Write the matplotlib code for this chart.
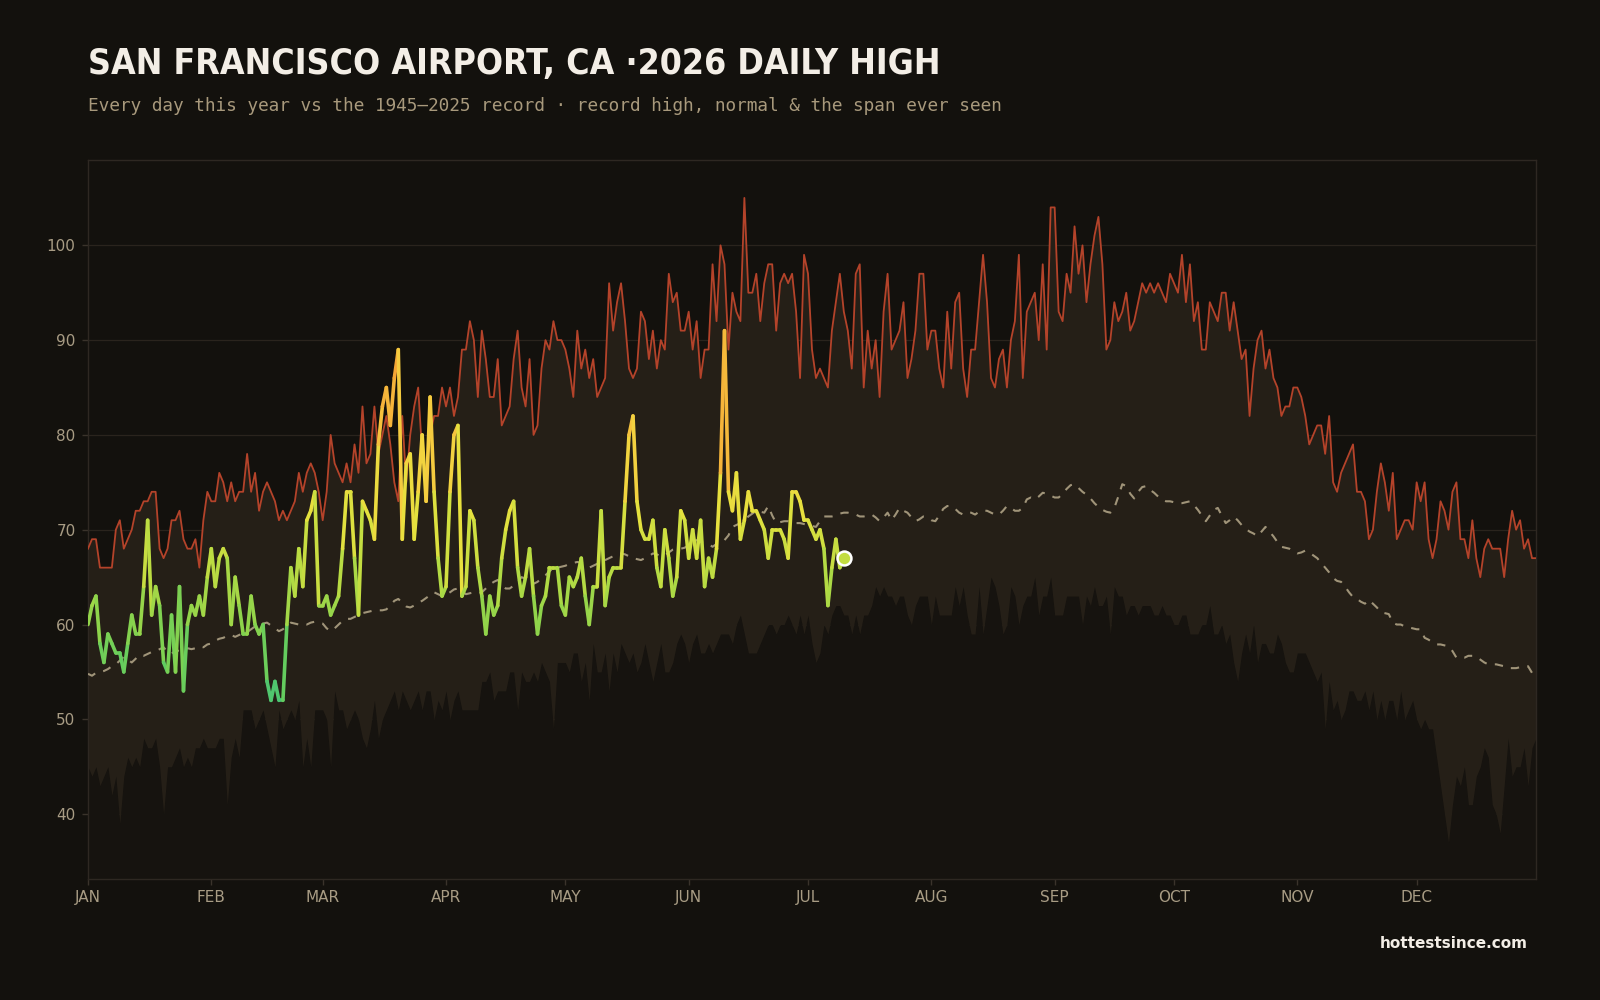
import numpy as np
import matplotlib.pyplot as plt
from matplotlib import font_manager
from matplotlib.collections import LineCollection
from matplotlib.colors import LinearSegmentedColormap, Normalize

# Daily highs, deg F, one value per day of the year (Jan 1 .. Dec 31)
month_names = ['JAN', 'FEB', 'MAR', 'APR', 'MAY', 'JUN',
               'JUL', 'AUG', 'SEP', 'OCT', 'NOV', 'DEC']
month_lengths = [31, 28, 31, 30, 31, 30, 31, 31, 30, 31, 30, 31]

record_high = [
    68, 69, 69, 66, 66, 66, 66, 70, 71, 68, 69, 70, 72, 72, 73, 73, 74, 74, 68, 67, 68, 71, 71, 72, 69, 68, 68, 69, 66, 71, 74,
    73, 73, 76, 75, 73, 75, 73, 74, 74, 78, 74, 76, 72, 74, 75, 74, 73, 71, 72, 71, 72, 73, 76, 74, 76, 77, 76, 74,
    71, 74, 80, 77, 76, 75, 77, 75, 79, 76, 83, 77, 78, 83, 78, 80, 82, 79, 75, 73, 82, 75, 80, 83, 85, 78, 76, 80, 82, 82, 85,
    83, 85, 82, 84, 89, 89, 92, 90, 84, 91, 88, 84, 84, 88, 81, 82, 83, 88, 91, 85, 83, 88, 80, 81, 87, 90, 89, 92, 90, 90,
    89, 87, 84, 91, 87, 89, 86, 88, 84, 85, 86, 96, 91, 94, 96, 92, 87, 86, 87, 93, 92, 88, 91, 87, 90, 89, 97, 94, 95, 91, 91,
    93, 89, 92, 86, 89, 89, 98, 92, 100, 98, 89, 95, 93, 92, 105, 95, 95, 97, 92, 96, 98, 98, 91, 96, 97, 96, 97, 93, 86, 99,
    97, 89, 86, 87, 86, 85, 91, 94, 97, 93, 91, 87, 97, 98, 85, 91, 87, 90, 84, 93, 97, 89, 90, 91, 94, 86, 88, 91, 97, 97, 89,
    91, 91, 87, 85, 93, 87, 94, 95, 87, 84, 89, 89, 94, 99, 94, 86, 85, 88, 89, 85, 90, 92, 99, 86, 93, 94, 95, 90, 98, 89, 104,
    104, 93, 92, 97, 95, 102, 97, 100, 94, 98, 101, 103, 98, 89, 90, 94, 92, 93, 95, 91, 92, 94, 96, 95, 96, 95, 96, 95, 94, 97,
    96, 95, 99, 94, 98, 92, 94, 89, 89, 94, 93, 92, 95, 95, 91, 94, 91, 88, 89, 82, 87, 90, 91, 87, 89, 86, 85, 82, 83, 83, 85,
    85, 84, 82, 79, 80, 81, 81, 78, 82, 75, 74, 76, 77, 78, 79, 74, 74, 73, 69, 70, 74, 77, 75, 72, 76, 69, 70, 71, 71, 70,
    75, 73, 75, 69, 67, 69, 73, 72, 70, 74, 75, 69, 69, 67, 71, 67, 65, 68, 69, 68, 68, 68, 65, 69, 72, 70, 71, 68, 69, 67, 67,
]

# lowest daily high ever seen (bottom of the span)
record_low = [
    45, 44, 45, 43, 44, 45, 42, 44, 39, 44, 46, 45, 46, 45, 48, 47, 47, 48, 45, 40, 45, 45, 46, 47, 45, 46, 45, 47, 47, 48, 47,
    47, 47, 48, 48, 41, 46, 48, 46, 51, 51, 51, 49, 50, 51, 49, 47, 45, 51, 49, 50, 51, 50, 52, 45, 48, 45, 51, 51,
    51, 50, 45, 53, 51, 51, 49, 50, 51, 50, 48, 47, 49, 52, 48, 50, 51, 52, 53, 51, 53, 52, 51, 52, 53, 51, 53, 53, 50, 52, 51,
    53, 50, 52, 53, 51, 51, 51, 51, 51, 54, 54, 55, 52, 53, 53, 53, 55, 55, 51, 55, 54, 54, 55, 54, 56, 55, 54, 49, 56, 56,
    56, 55, 57, 57, 54, 56, 52, 58, 55, 55, 57, 53, 57, 55, 58, 57, 56, 57, 55, 56, 58, 56, 54, 56, 58, 55, 55, 56, 58, 59, 58,
    56, 58, 59, 57, 57, 58, 57, 58, 59, 59, 59, 58, 60, 61, 59, 57, 57, 57, 58, 59, 60, 60, 59, 60, 60, 61, 60, 59, 61, 59,
    61, 58, 56, 57, 60, 59, 61, 62, 62, 61, 61, 59, 61, 59, 61, 61, 62, 64, 63, 64, 63, 63, 62, 63, 63, 61, 60, 62, 63, 63, 63,
    60, 63, 61, 61, 61, 61, 64, 62, 64, 61, 59, 59, 64, 59, 62, 65, 64, 62, 59, 60, 64, 63, 60, 62, 63, 63, 65, 61, 63, 63, 65,
    61, 61, 61, 63, 63, 63, 63, 60, 63, 62, 64, 62, 62, 63, 59, 64, 63, 63, 61, 62, 62, 61, 62, 62, 62, 61, 61, 62, 61, 61,
    60, 60, 61, 61, 59, 59, 59, 60, 60, 62, 59, 59, 60, 58, 59, 56, 54, 57, 59, 57, 60, 56, 58, 58, 57, 57, 59, 58, 56, 55, 55,
    57, 57, 57, 56, 55, 54, 55, 49, 54, 51, 52, 50, 51, 53, 53, 52, 52, 53, 51, 53, 50, 52, 50, 52, 52, 50, 53, 50, 51, 52,
    50, 49, 50, 49, 49, 46, 43, 40, 37, 41, 44, 43, 45, 41, 41, 44, 45, 47, 46, 41, 40, 38, 43, 48, 44, 45, 45, 47, 43, 47, 48,
]

normal = [
    54.8, 54.6, 54.9, 55.0, 55.1, 55.3, 55.6, 55.8, 56.2, 56.6, 56.3, 56.0, 56.4, 56.8, 56.7, 56.9, 57.1, 57.2, 57.4, 57.6,
    57.1, 56.9, 57.3, 57.2, 57.3, 57.5, 57.4, 57.5, 57.7, 57.6, 57.9,
    58.0, 58.3, 58.5, 58.6, 58.8, 58.9, 58.7, 58.9, 59.1, 59.2, 59.5, 59.8, 60.0, 60.1, 60.2, 59.9, 59.6, 59.3, 59.5, 59.9,
    60.2, 60.1, 60.0, 60.1, 60.0, 60.2, 60.3, 60.2,
    60.1, 59.6, 59.3, 59.6, 60.0, 60.4, 60.6, 60.6, 60.8, 61.0, 61.2, 61.3, 61.4, 61.5, 61.5, 61.5, 61.6, 62.0, 62.5, 62.7,
    62.3, 61.9, 61.8, 62.0, 62.3, 62.5, 62.8, 63.1, 63.4, 63.2, 63.0,
    63.1, 63.4, 63.7, 63.8, 63.5, 63.2, 63.3, 63.4, 63.3, 63.4, 63.8, 64.2, 64.5, 64.7, 64.2, 63.8, 63.8, 64.1, 64.5, 65.0,
    64.8, 64.5, 64.3, 64.5, 64.9, 65.2, 65.6, 66.0, 66.0, 66.1,
    66.2, 66.4, 66.5, 66.6, 66.5, 66.3, 66.0, 66.2, 66.4, 66.6, 66.8, 67.0, 67.2, 67.4, 67.5, 67.4, 67.2, 67.0, 66.9, 66.8,
    67.0, 67.2, 67.5, 67.4, 67.2, 67.3, 67.6, 67.9, 68.0, 68.0, 68.1,
    68.4, 68.8, 68.9, 68.7, 68.6, 68.5, 68.2, 68.5, 68.9, 68.9, 69.4, 70.3, 70.5, 70.7, 71.0, 71.4, 71.7, 72.0, 71.9, 71.8,
    72.5, 71.5, 70.7, 70.8, 70.9, 70.9, 70.8, 70.7, 70.7, 70.6,
    70.5, 70.4, 70.3, 70.9, 71.4, 71.4, 71.4, 71.5, 71.7, 71.8, 71.8, 71.7, 71.6, 71.4, 71.4, 71.5, 71.6, 71.3, 70.9, 71.3,
    71.8, 71.0, 71.6, 72.3, 72.0, 71.8, 71.3, 70.9, 71.1, 71.4, 71.3,
    71.0, 70.9, 71.5, 72.2, 72.5, 72.5, 72.2, 71.8, 71.6, 71.8, 71.8, 71.6, 71.9, 72.0, 72.0, 71.8, 71.6, 71.6, 72.0, 72.5,
    72.3, 72.0, 72.0, 72.3, 73.2, 73.4, 73.2, 73.5, 73.9, 73.8, 73.6,
    73.4, 73.4, 73.8, 74.3, 74.7, 74.8, 74.4, 74.0, 73.7, 73.3, 72.8, 72.4, 72.1, 71.9, 71.8, 72.3, 73.5, 74.8, 74.6, 73.8,
    73.3, 74.0, 74.5, 74.6, 74.2, 73.9, 73.5, 73.2, 73.0, 73.0,
    72.9, 72.8, 72.8, 72.9, 73.0, 72.6, 72.1, 71.5, 70.9, 71.5, 72.1, 72.3, 71.5, 70.7, 71.0, 71.4, 71.0, 70.5, 70.1, 69.8,
    69.6, 69.3, 69.8, 70.3, 69.8, 69.3, 68.7, 68.2, 68.1, 68.0, 67.7,
    67.5, 67.6, 67.8, 67.6, 67.3, 67.0, 66.5, 66.0, 65.5, 64.9, 64.6, 64.5, 64.0, 63.4, 62.9, 62.7, 62.4, 62.2, 62.6, 62.2,
    61.8, 61.3, 61.2, 61.1, 60.2, 60.0, 60.0, 59.8, 59.7, 59.6,
    59.5, 59.5, 58.6, 58.4, 58.1, 57.9, 57.9, 57.8, 57.7, 57.2, 56.5, 56.5, 56.5, 56.7, 56.7, 56.6, 56.3, 56.0, 55.8, 55.8,
    55.8, 55.7, 55.6, 55.4, 55.4, 55.4, 55.5, 55.6, 55.6, 54.9, 54.7,
]

# 2026 so far (Jan 1 .. Jul 10)
year_2026 = [
    60, 62, 63, 58, 56, 59, 58, 57, 57, 55, 58, 61, 59, 59, 64, 71, 61, 64, 62, 56, 55, 61, 55, 64, 53, 60, 62, 61, 63, 61, 65,
    68, 64, 67, 68, 67, 60, 65, 62, 59, 59, 63, 60, 59, 60, 54, 52, 54, 52, 52, 60, 66, 63, 68, 64, 71, 72, 74, 62,
    62, 63, 61, 62, 63, 68, 74, 74, 67, 61, 73, 72, 71, 69, 79, 83, 85, 81, 86, 89, 69, 77, 78, 69, 74, 80, 73, 84, 74, 67, 63,
    64, 74, 80, 81, 63, 64, 72, 71, 66, 63, 59, 63, 61, 62, 67, 70, 72, 73, 66, 63, 65, 68, 63, 59, 62, 63, 66, 66, 66, 62,
    61, 65, 64, 65, 67, 63, 60, 64, 64, 72, 62, 65, 66, 66, 66, 73, 80, 82, 73, 70, 69, 69, 71, 66, 64, 70, 67, 63, 65, 72, 71,
    67, 70, 67, 71, 64, 67, 65, 68, 76, 91, 74, 72, 76, 69, 71, 74, 72, 72, 71, 70, 67, 70, 70, 70, 69, 67, 74, 74, 73, 71,
    71, 70, 69, 70, 68, 62, 66, 69, 66, 67,
]

assert len(record_high) == len(record_low) == len(normal) == sum(month_lengths)

days = np.arange(len(record_high))
days_2026 = np.arange(len(year_2026))
month_starts = np.cumsum([0] + month_lengths[:-1])

# pick a narrow bold face for the title if one is installed
installed = {(f.name, f.stretch) for f in font_manager.fontManager.ttflist}
if ('DejaVu Sans', 'condensed') in installed:
    title_font = dict(family='DejaVu Sans', fontstretch='condensed', fontsize=25.6)
elif any(n == 'Roboto Condensed' for n, _ in installed):
    title_font = dict(family='Roboto Condensed', fontsize=28)
else:
    title_font = dict(family=['Roboto', 'DejaVu Sans'], fontsize=25)

bg = '#13110d'
fig = plt.figure(figsize=(16, 10), dpi=100, facecolor=bg)
ax = fig.add_axes([0.055, 0.1214, 0.905, 0.7186], facecolor=bg)
ax.set_xlim(0, 364)
ax.set_ylim(33.2, 109)

# grid sits under the span fill
ax.set_yticks([40, 50, 60, 70, 80, 90, 100])
ax.grid(axis='y', color='#2a241d', linewidth=0.9, zorder=0)
ax.set_axisbelow(True)

# span ever seen and the area under it
ax.fill_between(days, 33.2, record_low, color='#16130f', linewidth=0, zorder=1)
ax.fill_between(days, record_low, record_high, color='#251f17', linewidth=0, zorder=1)

# record high
ax.plot(days, record_high, color='#b4432a', linewidth=1.3, zorder=3)

# normal
ax.plot(days, normal, color='#a09479', linewidth=1.5, linestyle=(0, (4, 4)), zorder=3)

# 2026 line coloured by temperature
cmap = LinearSegmentedColormap.from_list('heat', [
    (0.0, '#3fbf80'), (0.12, '#5ccb62'), (0.24, '#8ad34c'), (0.38, '#bcdc42'),
    (0.52, '#e6e13e'), (0.67, '#f5cf40'), (0.81, '#f5b23a'), (1.0, '#f2952f')])
norm = Normalize(50, 92)
pts = np.column_stack([days_2026, year_2026])
segs = np.stack([pts[:-1], pts[1:]], axis=1)
mids = (np.array(year_2026[:-1]) + np.array(year_2026[1:])) / 2
lc = LineCollection(segs, colors=cmap(norm(mids)), linewidths=2.6,
                    capstyle='round', joinstyle='round', zorder=4)
ax.add_collection(lc)
ax.plot(days_2026[-1], year_2026[-1], 'o', markersize=10, markerfacecolor=cmap(norm(year_2026[-1])),
        markeredgecolor='white', markeredgewidth=1.8, zorder=5)

# axes styling
for s in ax.spines.values():
    s.set_color('#2e2822')
    s.set_linewidth(1)
ax.set_xticks(month_starts)
ax.set_xticklabels(month_names)
ax.tick_params(colors='#3a332b', labelcolor='#a89c84', labelsize=11, length=4, width=1)
ax.tick_params(axis='x', pad=4)
ax.tick_params(axis='y', pad=5)

fig.text(0.055, 0.926, 'SAN FRANCISCO AIRPORT, CA \u00b72026 DAILY HIGH',
         fontweight='bold', color='#f3eee6', va='baseline', **title_font)
fig.text(0.055, 0.889, 'Every day this year vs the 1945\u20132025 record \u00b7 record high, normal & the span ever seen',
         family='DejaVu Sans Mono', fontsize=12.75, color='#a8997c', va='baseline')
fig.text(0.955, 0.056, 'hottestsince.com', fontsize=11, fontweight='bold',
         color='#f3eee6', ha='right', va='center')

fig.savefig('out.png', dpi=100, facecolor=bg)
